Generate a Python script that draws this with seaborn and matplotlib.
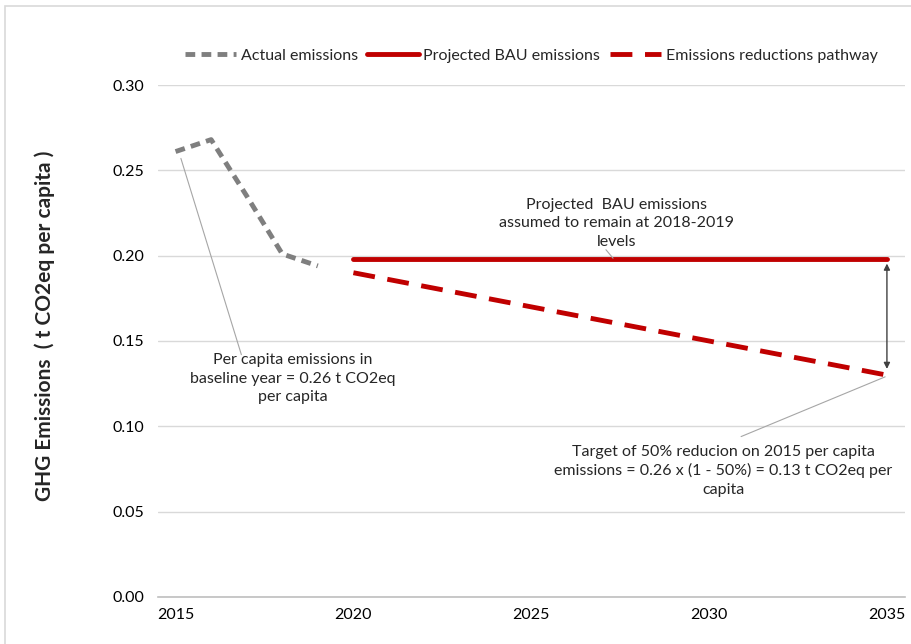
import matplotlib
matplotlib.use("Agg")
import matplotlib.pyplot as plt
import seaborn as sns
import pandas as pd
from matplotlib.patches import Rectangle

# data
actual_years = [2015, 2016, 2017, 2018, 2019]
actual_vals = [0.261, 0.268, 0.235, 0.201, 0.194]
bau_years = [2020, 2035]
bau_vals = [0.198, 0.198]
path_years = [2020, 2035]
path_vals = [0.190, 0.130]
xticks = [2015, 2020, 2025, 2030, 2035]
yticks = [0.00, 0.05, 0.10, 0.15, 0.20, 0.25, 0.30]

sns.set_style("white")
plt.rcParams["font.family"] = ["Lato", "DejaVu Sans"]

fig = plt.figure(figsize=(9.12, 6.44), dpi=100)
ax = fig.add_axes([0.173, 0.073, 0.819, 0.795])

grey = "#7f7f7f"
red = "#c00000"

sns.lineplot(x=actual_years, y=actual_vals, ax=ax, color=grey, lw=3.5,
             linestyle=(0, (2.0, 1.3)), label="Actual emissions")
sns.lineplot(x=bau_years, y=bau_vals, ax=ax, color=red, lw=3.5,
             label="Projected BAU emissions")
sns.lineplot(x=path_years, y=path_vals, ax=ax, color=red, lw=3.5,
             linestyle=(0, (4.5, 2.6)), label="Emissions reductions pathway")

ax.set_xlim(2014.5, 2035.5)
ax.set_ylim(0, 0.30)
ax.set_xticks(xticks)
ax.set_yticks(yticks)
ax.set_yticklabels([f"{v:.2f}" for v in yticks])
ax.tick_params(axis="both", labelsize=11.5, colors="#000000", length=0)
ax.tick_params(axis="x", pad=8)
ax.tick_params(axis="y", pad=10)
ax.grid(axis="y", color="#d9d9d9", lw=1)
ax.set_axisbelow(True)
for s in ["top", "right", "left"]:
    ax.spines[s].set_visible(False)
ax.spines["bottom"].set_color("#bfbfbf")
ax.spines["bottom"].set_linewidth(1.2)

ax.set_ylabel("GHG Emissions  ( t CO2eq per capita )", fontsize=15,
              fontweight="bold")
ax.yaxis.set_label_coords(-0.138, 0.53)
ax.set_xlabel("")

leg = ax.legend(loc="lower center", bbox_to_anchor=(0.5, 1.015), ncol=3,
                frameon=False, fontsize=11.5, handlelength=3.2,
                columnspacing=0.6, handletextpad=0.3)

# annotations
ax.text(2027.4, 0.219, "Projected  BAU emissions\nassumed to remain at 2018-2019\nlevels",
        ha="center", va="center", fontsize=11.5, linespacing=1.4)
ax.plot([2027.1, 2027.3], [0.2035, 0.1985], color="#a6a6a6", lw=0.8)

ax.text(2018.3, 0.128, "Per capita emissions in\nbaseline year = 0.26 t CO2eq\nper capita",
        ha="center", va="center", fontsize=11.5, linespacing=1.4)
ax.plot([2015.15, 2016.85], [0.257, 0.142], color="#a6a6a6", lw=0.8)

ax.text(2030.4, 0.074, "Target of 50% reducion on 2015 per capita\nemissions = 0.26 x (1 - 50%) = 0.13 t CO2eq per\ncapita",
        ha="center", va="center", fontsize=11.5, linespacing=1.4)
ax.plot([2034.95, 2030.9], [0.129, 0.094], color="#a6a6a6", lw=0.8)

ax.annotate("", xy=(2035, 0.132), xytext=(2035, 0.197),
            arrowprops=dict(arrowstyle="<|-|>", color="#404040", lw=1,
                            mutation_scale=9))

fig.patches.append(Rectangle((0.006, -0.01), 1.1, 1.0, transform=fig.transFigure,
                             fill=False, edgecolor="#d9d9d9", lw=1.2))

fig.savefig("out.png", dpi=100)
